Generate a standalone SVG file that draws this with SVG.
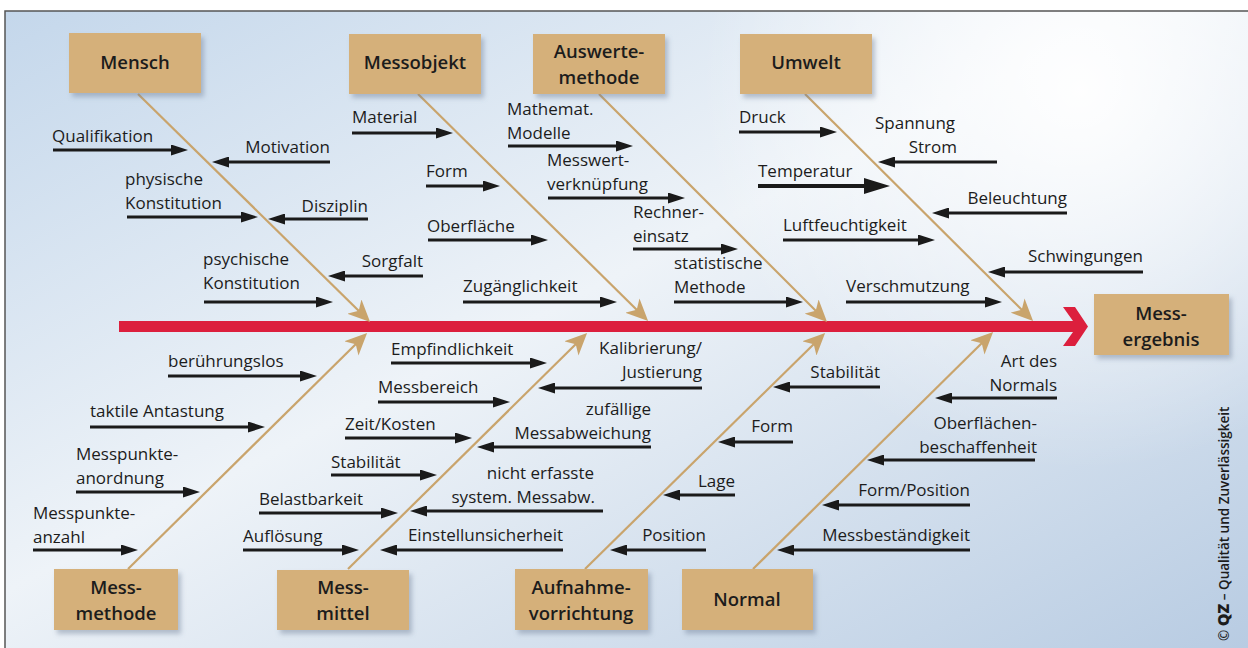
<svg xmlns="http://www.w3.org/2000/svg" width="1248" height="648" viewBox="0 0 1248 648">
  <defs>
    <linearGradient id="bg" x1="0" y1="0" x2="1" y2="1">
      <stop offset="0" stop-color="#c4d7eb"/>
      <stop offset="0.45" stop-color="#eef3f8"/>
      <stop offset="1" stop-color="#b7cbe2"/>
    </linearGradient>
    <radialGradient id="glow" cx="1080" cy="90" r="380" gradientUnits="userSpaceOnUse">
      <stop offset="0" stop-color="#ffffff" stop-opacity="0.95"/>
      <stop offset="1" stop-color="#ffffff" stop-opacity="0"/>
    </radialGradient>
    <filter id="shadow" x="-10%" y="-10%" width="130%" height="140%">
      <feDropShadow dx="3" dy="4" stdDeviation="2.5" flood-color="#6d7f95" flood-opacity="0.45"/>
    </filter>
    <marker id="head" viewBox="0 0 17 11" refX="9" refY="5.5" markerWidth="17" markerHeight="11" markerUnits="userSpaceOnUse" orient="auto">
      <path d="M0,0 L17,5.5 L0,11 Z" fill="#1a1a1a"/>
    </marker>
    <marker id="headBig" viewBox="0 0 26 16" refX="16" refY="8" markerWidth="26" markerHeight="16" markerUnits="userSpaceOnUse" orient="auto">
      <path d="M0,0 L26,8 L0,16 Z" fill="#1a1a1a"/>
    </marker>
    <marker id="bone" viewBox="0 0 22 20" refX="12" refY="10" markerWidth="22" markerHeight="20" markerUnits="userSpaceOnUse" orient="auto">
      <path d="M0,0 L22,10 L0,20 L6,10 Z" fill="#c9a46c"/>
    </marker>
    <style>
      .box { fill: #d5b07a; filter: url(#shadow); }
      .bt { font-family: "Open Sans", "Noto Sans", sans-serif; font-size: 18.5px; font-weight: 600; fill: #1c1c1c; text-anchor: middle; }
      .t { font-family: "Open Sans", "Noto Sans", sans-serif; font-size: 17px; font-weight: 500; fill: #1c1c1c; }
      .e { text-anchor: end; }
      .a { stroke: #1a1a1a; stroke-width: 2.8; fill: none; marker-end: url(#head); }
      .ab { stroke: #1a1a1a; stroke-width: 4; fill: none; marker-end: url(#headBig); }
      .b { stroke: #c9a46c; stroke-width: 2.2; fill: none; marker-end: url(#bone); }
      .cr { font-family: "Open Sans", "Noto Sans", sans-serif; font-size: 13.5px; font-weight: 600; fill: #1c1c1c; }
    </style>
  </defs>

  <!-- page and frame -->
  <rect width="1248" height="648" fill="#ffffff"/>
  <rect x="5" y="11" width="1250" height="645" fill="url(#bg)"/>
  <rect x="5" y="11" width="1250" height="645" fill="url(#glow)"/>
  <path d="M5,656 V11 H1248" fill="none" stroke="#555" stroke-width="1.5"/>

  <!-- main spine -->
  <path id="spine" d="M119,321 H1073 L1063,307 H1075 L1088,326.5 L1075,346 H1063 L1073,332 H119 Z" fill="#dc1f3d"/>

  <g id="connectors">
    <!-- category bones -->
    <path class="b" d="M138,94 L363,315"/>
    <path class="b" d="M418,94 L641,314"/>
    <path class="b" d="M599,94 L820,315"/>
    <path class="b" d="M805,94 L1026,314"/>
    <path class="b" d="M128,569 L360,340"/>
    <path class="b" d="M348,569 L580,340"/>
    <path class="b" d="M585,569 L818,340"/>
    <path class="b" d="M753,569 L986,339"/>

    <!-- Mensch -->
    <path class="a" d="M53,150 H180"/>
    <path class="a" d="M330,162 H220"/>
    <path class="a" d="M127,217 H250"/>
    <path class="a" d="M368,219 H276"/>
    <path class="a" d="M423,276 H336"/>
    <path class="a" d="M204,302 H325"/>
    <!-- Messobjekt -->
    <path class="a" d="M352,133 H445"/>
    <path class="a" d="M426,186 H492"/>
    <path class="a" d="M428,240 H540"/>
    <path class="a" d="M463,302 H609"/>
    <!-- Auswertemethode -->
    <path class="a" d="M508,146 H625"/>
    <path class="a" d="M548,198 H677"/>
    <path class="a" d="M633,249 H730"/>
    <path class="a" d="M674,302 H795"/>
    <!-- Umwelt -->
    <path class="a" d="M739,132 H829"/>
    <path class="ab" d="M758,186 H880"/>
    <path class="a" d="M783,240 H927"/>
    <path class="a" d="M846,302 H994"/>
    <path class="a" d="M997,162 H886"/>
    <path class="a" d="M1067,213 H940"/>
    <path class="a" d="M1143,272 H996"/>
    <!-- Messmethode -->
    <path class="a" d="M168,376 H309"/>
    <path class="a" d="M90,427 H257"/>
    <path class="a" d="M76,492 H192"/>
    <path class="a" d="M33,550 H130"/>
    <!-- Messmittel -->
    <path class="a" d="M391,363 H539"/>
    <path class="a" d="M378,402 H502"/>
    <path class="a" d="M345,438 H464"/>
    <path class="a" d="M331,475 H429"/>
    <path class="a" d="M259,513 H390"/>
    <path class="a" d="M243,550 H351"/>
    <path class="a" d="M702,388 H546"/>
    <path class="a" d="M651,447 H485"/>
    <path class="a" d="M603,511 H418"/>
    <path class="a" d="M563,550 H388"/>
    <!-- Aufnahmevorrichtung -->
    <path class="a" d="M880,387 H781"/>
    <path class="a" d="M793,442 H726"/>
    <path class="a" d="M735,495 H671"/>
    <path class="a" d="M706,550 H618"/>
    <!-- Normal -->
    <path class="a" d="M1057,398 H943"/>
    <path class="a" d="M1035,460 H875"/>
    <path class="a" d="M970,505 H830"/>
    <path class="a" d="M970,550 H785"/>
  </g>

  <!-- cause labels -->
  <g id="labels">
    <text class="t" x="52" y="142">Qualifikation</text>
    <text class="t e" x="330" y="153">Motivation</text>
    <text class="t" x="125" y="185">physische</text>
    <text class="t" x="125" y="208.5">Konstitution</text>
    <text class="t e" x="368" y="212">Disziplin</text>
    <text class="t e" x="423" y="267">Sorgfalt</text>
    <text class="t" x="203" y="265">psychische</text>
    <text class="t" x="203" y="288.5">Konstitution</text>

    <text class="t" x="352" y="123">Material</text>
    <text class="t" x="426" y="177">Form</text>
    <text class="t" x="427" y="232">Oberfläche</text>
    <text class="t" x="463" y="292">Zugänglichkeit</text>

    <text class="t" x="507" y="115">Mathemat.</text>
    <text class="t" x="507" y="138.5">Modelle</text>
    <text class="t" x="547" y="166">Messwert-</text>
    <text class="t" x="547" y="189.5">verknüpfung</text>
    <text class="t" x="633" y="218">Rechner-</text>
    <text class="t" x="633" y="241.5">einsatz</text>
    <text class="t" x="674" y="269">statistische</text>
    <text class="t" x="674" y="292.5">Methode</text>

    <text class="t" x="739" y="123">Druck</text>
    <text class="t" x="758" y="177">Temperatur</text>
    <text class="t" x="783" y="231">Luftfeuchtigkeit</text>
    <text class="t" x="846" y="292">Verschmutzung</text>
    <text class="t" x="875" y="129">Spannung</text>
    <text class="t e" x="957" y="152.5">Strom</text>
    <text class="t e" x="1067" y="204">Beleuchtung</text>
    <text class="t e" x="1143" y="262">Schwingungen</text>

    <text class="t" x="168" y="367">berührungslos</text>
    <text class="t" x="90" y="417">taktile Antastung</text>
    <text class="t" x="76" y="460">Messpunkte-</text>
    <text class="t" x="76" y="483.5">anordnung</text>
    <text class="t" x="33" y="519">Messpunkte-</text>
    <text class="t" x="33" y="542.5">anzahl</text>

    <text class="t" x="391" y="355">Empfindlichkeit</text>
    <text class="t" x="378" y="393">Messbereich</text>
    <text class="t" x="345" y="430">Zeit/Kosten</text>
    <text class="t" x="331" y="468">Stabilität</text>
    <text class="t" x="259" y="505">Belastbarkeit</text>
    <text class="t" x="243" y="542">Auflösung</text>
    <text class="t e" x="702" y="354">Kalibrierung/</text>
    <text class="t e" x="702" y="377.5">Justierung</text>
    <text class="t e" x="651" y="415">zufällige</text>
    <text class="t e" x="651" y="438.5">Messabweichung</text>
    <text class="t e" x="594" y="479">nicht erfasste</text>
    <text class="t e" x="595" y="502.5">system. Messabw.</text>
    <text class="t e" x="563" y="541">Einstellunsicherheit</text>

    <text class="t e" x="880" y="378">Stabilität</text>
    <text class="t e" x="793" y="432">Form</text>
    <text class="t e" x="735" y="487">Lage</text>
    <text class="t e" x="706" y="541">Position</text>

    <text class="t e" x="1057" y="367">Art des</text>
    <text class="t e" x="1057" y="390.5">Normals</text>
    <text class="t e" x="1037" y="429">Oberflächen-</text>
    <text class="t e" x="1037" y="452.5">beschaffenheit</text>
    <text class="t e" x="970" y="496">Form/Position</text>
    <text class="t e" x="970" y="541">Messbeständigkeit</text>
  </g>

  <!-- category nodes -->
  <g id="mensch">
    <rect class="box" x="69" y="33" width="132" height="60"/>
    <text class="bt" x="135" y="69">Mensch</text>
  </g>
  <g id="messobjekt">
    <rect class="box" x="349" y="34" width="132" height="60"/>
    <text class="bt" x="415" y="69">Messobjekt</text>
  </g>
  <g id="auswertemethode">
    <rect class="box" x="533" y="34" width="132" height="60"/>
    <text class="bt" x="599" y="58">Auswerte-</text>
    <text class="bt" x="599" y="83.5">methode</text>
  </g>
  <g id="umwelt">
    <rect class="box" x="740" y="34" width="132" height="60"/>
    <text class="bt" x="806" y="69">Umwelt</text>
  </g>
  <g id="messergebnis">
    <rect class="box" x="1094" y="294" width="135" height="61"/>
    <text class="bt" x="1161" y="320">Mess-</text>
    <text class="bt" x="1161" y="345.5">ergebnis</text>
  </g>
  <g id="messmethode">
    <rect class="box" x="54" y="569" width="124" height="61"/>
    <text class="bt" x="116" y="594">Mess-</text>
    <text class="bt" x="116" y="619.5">methode</text>
  </g>
  <g id="messmittel">
    <rect class="box" x="277" y="570" width="132" height="60"/>
    <text class="bt" x="343" y="594">Mess-</text>
    <text class="bt" x="343" y="619.5">mittel</text>
  </g>
  <g id="aufnahmevorrichtung">
    <rect class="box" x="515" y="569" width="133" height="61"/>
    <text class="bt" x="581" y="594">Aufnahme-</text>
    <text class="bt" x="581" y="619.5">vorrichtung</text>
  </g>
  <g id="normal">
    <rect class="box" x="682" y="569" width="131" height="61"/>
    <text class="bt" x="747" y="606">Normal</text>
  </g>

  <!-- credit line -->
  <text class="cr" transform="translate(1229,641) rotate(-90)">© <tspan font-weight="800" font-size="16">QZ</tspan> – Qualität und Zuverlässigkeit</text>
</svg>
